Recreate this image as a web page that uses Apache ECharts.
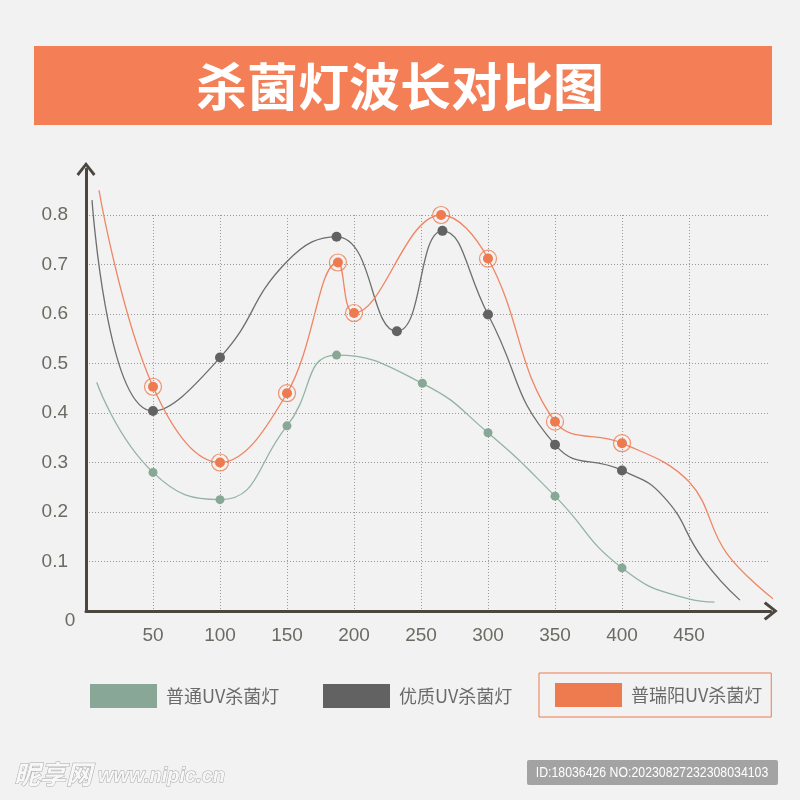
<!DOCTYPE html>
<html><head><meta charset="utf-8">
<script src="https://cdn.jsdelivr.net/npm/echarts@6/dist/echarts.min.js"></script>
<style>html,body{margin:0;padding:0;background:#f2f2f2}#c{width:800px;height:800px}</style>
</head><body><div id="c"></div>
<script>
// ---- data ----
const titleText = '杀菌灯波长对比图';
const seriesNames = ['普通UV杀菌灯', '优质UV杀菌灯', '普瑞阳UV杀菌灯'];
// 1 = point drawn with a marker, 0 = point on the curve without marker
const greenX = [8, 50, 100, 150, 187, 251, 300, 350, 400, 449, 469];
const greenY = [0.462, 0.280, 0.225, 0.374, 0.517, 0.460, 0.360, 0.232, 0.087, 0.025, 0.018];
const greenMark = [0, 1, 1, 1, 1, 1, 1, 1, 1, 0, 0];
const grayX = [4.5, 50, 100, 150, 187, 232, 266, 300, 350, 400, 431, 461, 488];
const grayY = [0.83, 0.404, 0.512, 0.706, 0.756, 0.565, 0.768, 0.599, 0.336, 0.284, 0.231, 0.103, 0.022];
const grayMark = [0, 1, 1, 0, 1, 1, 1, 1, 1, 1, 0, 0, 0];
const orangeX = [9.7, 50, 100, 150, 188, 200, 265, 300, 350, 400, 450, 478, 513];
const orangeY = [0.85, 0.453, 0.300, 0.440, 0.704, 0.602, 0.800, 0.712, 0.3825, 0.339, 0.261, 0.117, 0.024];
const orangeMark = [0, 1, 1, 1, 1, 1, 1, 1, 1, 1, 0, 0, 0];
const xTickStep = 50, xTickMax = 450;
const yTickStep = 0.1, yTickMax = 0.8;
const watermarkId = 'ID:18036426 NO:20230827232308034103';

// ---- layout ----
const X0 = 86, PX = 1.34, Y0 = 611, PY = 495;
const AX_XMAX = 511, AX_YMAX = 0.893;
const C_GREEN = '#89A797', C_GRAY = '#626262', C_ORANGE = '#EE7A50';
const L_GREEN = '#93B3A5', L_GRAY = '#6E6E6E', L_ORANGE = '#F08462';
const AXIS_COLOR = '#4B463E';
const arrow = 'path://M9.5,0 L19,12 L16.8,14 L9.5,4.6 L2.2,14 L0,12 Z';
const splitStyle = { color: '#9a9a9a', width: 1, type: [1, 2] };
const labelFont = { fontFamily: 'Liberation Sans, Arial, sans-serif', fontSize: 19, color: '#6B6B63' };
const legendText = { fontFamily: 'Noto Sans CJK SC', fontSize: 18, color: '#6A6A6A', padding: [0, 0, 0, 4] };

function pts(xs, ys, mk) {
  return xs.map((x, i) => ({ value: [x, ys[i]], symbol: mk[i] ? 'circle' : 'none' }));
}
function marked(xs, ys, mk) {
  const out = [];
  xs.forEach((x, i) => { if (mk[i]) out.push([x, ys[i]]); });
  return out;
}

const chart = echarts.init(document.getElementById('c'), null, { renderer: 'canvas' });
const option = {
  backgroundColor: '#F2F2F2',
  animation: false,
  grid: [
    { left: X0, top: Y0 - AX_YMAX * PY, width: AX_XMAX * PX, height: AX_YMAX * PY },
    { left: X0, top: Y0 - yTickMax * PY, width: xTickMax * PX, height: yTickMax * PY },
    { left: X0, top: Y0 - yTickMax * PY, width: 770 - X0, height: yTickMax * PY }
  ],
  xAxis: [
    { gridIndex: 0, type: 'value', min: 0, max: AX_XMAX, splitLine: { show: false }, axisTick: { show: false }, axisLabel: { show: false },
      axisLine: { show: true, onZero: false, symbol: ['none', arrow], symbolSize: [19, 14], lineStyle: { color: AXIS_COLOR, width: 3 } }, z: 5 },
    { gridIndex: 1, type: 'value', min: 0, max: xTickMax, interval: xTickStep,
      axisLine: { show: false }, axisTick: { show: false },
      axisLabel: Object.assign({ margin: 15, showMinLabel: false }, labelFont),
      splitLine: { show: true, showMinLine: false, lineStyle: splitStyle } },
    { gridIndex: 2, type: 'value', min: 0, max: 100, show: false }
  ],
  yAxis: [
    { gridIndex: 0, type: 'value', min: 0, max: AX_YMAX, splitLine: { show: false }, axisTick: { show: false }, axisLabel: { show: false },
      axisLine: { show: true, onZero: false, symbol: ['none', arrow], symbolSize: [19, 14], lineStyle: { color: AXIS_COLOR, width: 3 } }, z: 5 },
    { gridIndex: 1, type: 'value', min: 0, max: yTickMax, show: false },
    { gridIndex: 2, type: 'value', min: 0, max: yTickMax, interval: yTickStep,
      axisLine: { show: false }, axisTick: { show: false },
      axisLabel: Object.assign({ margin: 18, showMinLabel: false, padding: [5, 0, 0, 0] }, labelFont),
      splitLine: { show: true, showMinLine: false, lineStyle: splitStyle } }
  ],
  legend: [
    { left: 90, top: 684, padding: 0, icon: 'rect', itemWidth: 67, itemHeight: 24, data: [seriesNames[0]], textStyle: legendText },
    { left: 323, top: 684, padding: 0, icon: 'rect', itemWidth: 67, itemHeight: 24, data: [seriesNames[1]], textStyle: legendText },
    { left: 539, top: 673, padding: [10, 9, 10, 16], borderColor: '#EE7A50', borderWidth: 1, icon: 'rect', itemWidth: 67, itemHeight: 24, data: [seriesNames[2]], textStyle: legendText }
  ],
  series: [
    { name: seriesNames[0], type: 'line', xAxisIndex: 0, yAxisIndex: 0, smooth: 0.5, clip: false,
      data: pts(greenX, greenY, greenMark), symbolSize: 9, showAllSymbol: true,
      lineStyle: { color: L_GREEN, width: 1.3 }, itemStyle: { color: C_GREEN }, z: 3 },
    { name: seriesNames[1], type: 'line', xAxisIndex: 0, yAxisIndex: 0, smooth: 0.5, clip: false,
      data: pts(grayX, grayY, grayMark), symbolSize: 10, showAllSymbol: true,
      lineStyle: { color: L_GRAY, width: 1.3 }, itemStyle: { color: C_GRAY }, z: 3 },
    { name: seriesNames[2], type: 'line', xAxisIndex: 0, yAxisIndex: 0, smooth: 0.4, clip: false,
      data: pts(orangeX, orangeY, orangeMark), symbolSize: 10, showAllSymbol: true,
      lineStyle: { color: L_ORANGE, width: 1.3 }, itemStyle: { color: C_ORANGE }, z: 4 },
    { name: 'ring', type: 'scatter', xAxisIndex: 0, yAxisIndex: 0, data: marked(orangeX, orangeY, orangeMark),
      symbolSize: 17, itemStyle: { color: 'rgba(0,0,0,0)', borderColor: C_ORANGE, borderWidth: 1.2 }, z: 4, silent: true }
  ],
  graphic: [
    { type: 'rect', shape: { x: 34, y: 46, width: 738, height: 79 }, style: { fill: '#F47F57' }, z: 10 },
    { type: 'text', x: 400, y: 87, z: 11, style: { text: titleText, fill: '#FFFFFF', font: 'bold 51px "Noto Sans CJK SC"', textAlign: 'center', textVerticalAlign: 'middle' } },
    { type: 'text', x: 70, y: 621, style: { text: '0', fill: '#6B6B63', font: '19px "Liberation Sans", Arial', textAlign: 'center', textVerticalAlign: 'middle' } },
    { type: 'rect', shape: { x: 527, y: 760, width: 251, height: 25, r: 2 }, style: { fill: '#A3A3A3' } },
    { type: 'text', x: 652, y: 773, scaleY: 1.2, z: 2, style: { text: watermarkId, fill: '#FFFFFF', font: '12.3px "Liberation Sans", Arial', textAlign: 'center', textVerticalAlign: 'middle' } },
    { type: 'text', x: 14, y: 774, style: { text: '昵享网', fill: '#F7F7F7', stroke: '#A8A8A8', lineWidth: 1, font: 'italic bold 26px "Noto Sans CJK SC"', textVerticalAlign: 'middle' } },
    { type: 'text', x: 98, y: 776, style: { text: 'www.nipic.cn', fill: '#F7F7F7', stroke: '#A8A8A8', lineWidth: 1, font: 'italic bold 20px "Liberation Sans", Arial', textVerticalAlign: 'middle' } }
  ]
};
chart.setOption(option);
</script>
</body></html>
